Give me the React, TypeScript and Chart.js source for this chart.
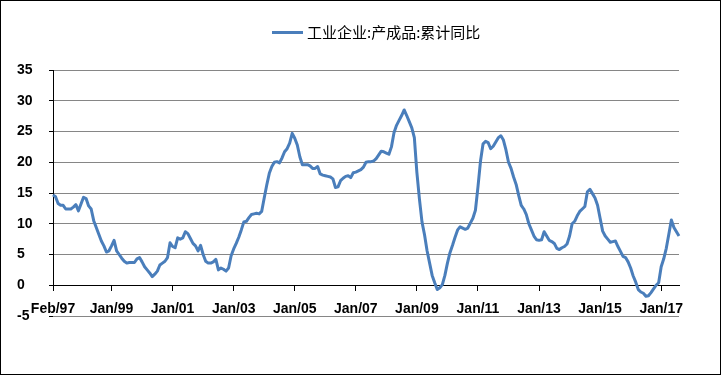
import React, { useEffect, useRef } from "react";
import { Chart, registerables } from "chart.js";

Chart.register(...registerables);

const seriesName = "工业企业:产成品:累计同比";
const monthNames = ["Jan", "Feb", "Mar", "Apr", "May", "Jun", "Jul", "Aug", "Sep", "Oct", "Nov", "Dec"];
const startYear = 1997;
const startMonth = 1; // Feb
const tickLabels = ["Feb/97", "Jan/99", "Jan/01", "Jan/03", "Jan/05", "Jan/07", "Jan/09", "Jan/11", "Jan/13", "Jan/15", "Jan/17"];
const yTicks = [-5, 0, 5, 10, 15, 20, 25, 30, 35];

// Monthly values Feb/97 .. Aug/17
const values = [
  14.7, 14.4, 13.3, 13.0, 13.0, 12.4, 12.4, 12.4, 12.7, 13.1, 12.1, 13.2,
  14.3, 14.1, 12.9, 12.4, 10.5, 9.4, 8.3, 7.2, 6.4, 5.4, 5.6, 6.4,
  7.3, 5.6, 5.0, 4.4, 3.9, 3.6, 3.7, 3.7, 3.7, 4.3, 4.5, 3.8,
  3.0, 2.5, 2.0, 1.4, 1.8, 2.3, 3.3, 3.6, 3.9, 4.5, 6.9, 6.3,
  6.1, 7.7, 7.5, 7.7, 8.7, 8.4, 7.6, 6.8, 6.4, 5.6, 6.5, 5.0,
  3.9, 3.6, 3.6, 3.8, 4.2, 2.5, 2.8, 2.6, 2.3, 2.8, 4.8, 5.9,
  6.8, 7.8, 9.0, 10.3, 10.4, 11.0, 11.5, 11.6, 11.7, 11.6, 12.0, 14.2,
  16.3, 18.2, 19.3, 20.0, 20.1, 19.9, 20.7, 21.7, 22.2, 23.1, 24.7, 23.9,
  22.8, 20.9, 19.6, 19.6, 19.6, 19.4, 19.0, 19.0, 19.3, 18.1, 17.9, 17.8,
  17.7, 17.6, 17.3, 15.9, 16.0, 17.0, 17.4, 17.7, 17.8, 17.5, 18.3, 18.4,
  18.6, 18.8, 19.2, 20.0, 20.1, 20.1, 20.2, 20.6, 21.2, 21.8, 21.7, 21.5,
  21.3, 22.5, 24.8, 26.0, 26.8, 27.6, 28.5, 27.6, 26.6, 25.6, 24.0, 18.3,
  14.0, 10.3, 8.2, 5.6, 3.6, 1.6, 0.4, -0.7, -0.4, 0.1, 1.6, 3.6,
  5.3, 6.5, 7.8, 9.0, 9.5, 9.3, 9.1, 9.3, 10.1, 10.9, 12.2, 16.0,
  20.2, 23.0, 23.4, 23.2, 22.2, 22.6, 23.3, 24.0, 24.3, 23.6, 22.0, 20.0,
  19.0, 17.6, 16.4, 14.6, 13.0, 12.4, 11.5, 10.0, 9.0, 8.0, 7.4, 7.3,
  7.4, 8.7, 8.0, 7.3, 7.1, 6.8, 6.0, 5.8, 6.1, 6.3, 6.7, 8.0,
  10.0, 10.4, 11.3, 12.0, 12.4, 12.8, 15.2, 15.6, 14.9, 14.2, 13.0, 10.9,
  8.8, 8.0, 7.5, 7.0, 7.1, 7.2, 6.3, 5.5, 4.7, 4.5, 3.8, 2.8,
  1.5, 0.5, -0.7, -1.1, -1.3, -1.8, -1.7, -1.2, -0.6, 0.0, 0.4, 3.0,
  4.3, 6.0, 8.3, 10.6, 9.4, 8.7, 8.0,
];

const categories: string[] = [];
for (let i = 0; i < values.length; i++) {
  const mi = (startMonth + i) % 12;
  const yr = startYear + Math.floor((startMonth + i) / 12);
  categories.push(monthNames[mi] + "/" + String(yr % 100).padStart(2, "0"));
}

const LINE_COLOR = "#4A7EBB";
const GRID_COLOR = "#868686";
const FONT = "'Liberation Sans', Arial, sans-serif";

const yAxisLinePlugin = {
  id: "yAxisLine",
  beforeDatasetsDraw(chart: any) {
    const { ctx, chartArea, scales } = chart;
    const x = Math.round(chartArea.left) + 0.5;
    const y0 = scales.y.getPixelForValue(0);
    ctx.save();
    ctx.strokeStyle = "#000";
    ctx.lineWidth = 1;
    ctx.beginPath();
    ctx.moveTo(x, chartArea.top);
    ctx.lineTo(x, y0);
    ctx.stroke();
    ctx.restore();
  },
};

export default function App() {
  const ref = useRef<HTMLCanvasElement>(null);

  useEffect(() => {
    if (!ref.current) return;
    const chart = new Chart(ref.current, {
      type: "line",
      data: {
        labels: categories,
        datasets: [
          {
            label: seriesName,
            data: values,
            borderColor: LINE_COLOR,
            backgroundColor: LINE_COLOR,
            borderWidth: 3,
            pointRadius: 0,
            tension: 0,
            fill: false,
            borderJoinStyle: "round",
          },
        ],
      },
      options: {
        animation: false,
        responsive: false,
        devicePixelRatio: 1,
        layout: { padding: { left: 16, right: 41, top: 69, bottom: 58 } },
        plugins: {
          legend: { display: false },
          tooltip: { enabled: false },
        },
        scales: {
          x: {
            position: { y: 0 } as any,
            offset: false,
            grid: {
              drawOnChartArea: false,
              drawTicks: true,
              tickLength: 5,
              tickColor: (c: any) =>
                tickLabels.includes(categories[c.index]) ? "#000" : "rgba(0,0,0,0)",
            },
            border: { display: true, color: "#000", width: 1 },
            ticks: {
              autoSkip: false,
              maxRotation: 0,
              minRotation: 0,
              padding: 10,
              color: "#000",
              font: { family: FONT, size: 14, weight: "bold" },
              callback: (_v: any, i: number) =>
                tickLabels.includes(categories[i]) ? categories[i] : "",
            },
          },
          y: {
            min: -5,
            max: 35,
            afterFit: (s: any) => {
              s.width = 36;
            },
            afterBuildTicks: (s: any) => {
              s.ticks = yTicks.map((v) => ({ value: v }));
            },
            grid: {
              color: (c: any) => (c.tick && c.tick.value === 0 ? "#000" : GRID_COLOR),
              lineWidth: 1,
              drawTicks: true,
              tickLength: 4,
              tickColor: "#000",
            },
            border: { display: false },
            ticks: {
              crossAlign: "far",
              padding: 4,
              color: "#000",
              font: { family: FONT, size: 14, weight: "bold" },
            },
          },
        },
      },
      plugins: [yAxisLinePlugin],
    } as any);
    return () => chart.destroy();
  }, []);

  return (
    <div
      style={{
        position: "absolute",
        left: 0,
        top: 0,
        width: 721,
        height: 375,
        boxSizing: "border-box",
        border: "1px solid #000",
        background: "#fff",
      }}
    >
      <canvas
        ref={ref}
        width={719}
        height={373}
        style={{ position: "absolute", left: 0, top: 0, width: 719, height: 373 }}
      />
      <div
        style={{
          position: "absolute",
          left: 271,
          top: 21,
          height: 20,
          display: "flex",
          alignItems: "center",
          whiteSpace: "nowrap",
        }}
      >
        <span
          style={{ display: "inline-block", width: 31, height: 3, background: LINE_COLOR, marginRight: 4 }}
        />
        <span
          style={{
            fontFamily: "'Noto Sans CJK SC', sans-serif",
            fontSize: 15,
            lineHeight: "20px",
            color: "#000",
          }}
        >
          {seriesName}
        </span>
      </div>
    </div>
  );
}
